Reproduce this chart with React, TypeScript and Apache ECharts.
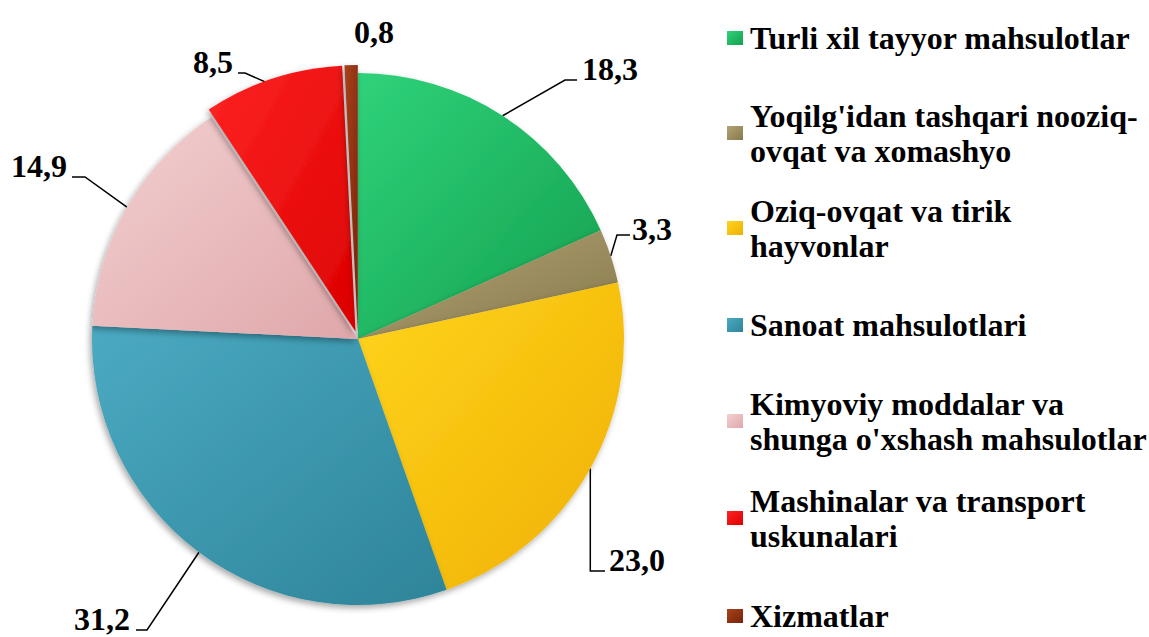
import React, { useEffect, useRef } from "react";
import * as echarts from "echarts";

const categories = [
  "Turli xil tayyor mahsulotlar",
  "Yoqilg'idan tashqari nooziq-ovqat va xomashyo",
  "Oziq-ovqat va tirik hayvonlar",
  "Sanoat mahsulotlari",
  "Kimyoviy moddalar va shunga o'xshash mahsulotlar",
  "Mashinalar va transport uskunalari",
  "Xizmatlar",
];
const legendLines = [
  ["Turli xil tayyor mahsulotlar"],
  ["Yoqilg'idan tashqari nooziq-", "ovqat va xomashyo"],
  ["Oziq-ovqat va tirik", "hayvonlar"],
  ["Sanoat mahsulotlari"],
  ["Kimyoviy moddalar va", "shunga o'xshash mahsulotlar"],
  ["Mashinalar va transport", "uskunalari"],
  ["Xizmatlar"],
];
const values = [18.3, 3.3, 23.0, 31.2, 14.9, 8.5, 0.8];
const exploded = [false, false, false, false, false, true, true];

const lightColors = ["#2fd27a", "#b3a476", "#ffd41e", "#4aaac2", "#f3d0d1", "#ff2424", "#a8421e"];
const darkColors = ["#15a04f", "#86794b", "#efb000", "#2e8499", "#dfa7aa", "#dc0000", "#762407"];

const FONT = "Liberation Serif";

// label placement (style): anchor x, baseline y, align, elbow & end offsets
const labelSpots = [
  { x: 582, y: 80, align: "left", elbow: [-17, 0], end: [-5, 0] },
  { x: 632, y: 240, align: "left", elbow: [-15, -5], end: [-2, -5] },
  { x: 609, y: 571, align: "left", elbow: null, end: [-4, 0] },
  { x: 130, y: 630, align: "right", elbow: [17, 0], end: [6, 0] },
  { x: 67, y: 177, align: "right", elbow: [18, 0], end: [5, 0] },
  { x: 233, y: 73, align: "right", elbow: [12, 0], end: [5, 0] },
  { x: 374, y: 43, align: "center", elbow: null, end: null },
];
const legendCenters = [38, 133, 228, 325, 421, 518, 616];

export default function App() {
  const ref = useRef<HTMLDivElement>(null);
  useEffect(() => {
    document.body.style.margin = "0";
    const chart = echarts.init(ref.current!, null, { renderer: "svg" });
    const pieData = categories.map((name, i) => ({
      name,
      value: values[i],
      selected: exploded[i],
      itemStyle: {
        color: {
          type: "linear",
          x: 0,
          y: 0,
          x2: 1,
          y2: 1,
          colorStops: [
            { offset: 0, color: lightColors[i] },
            { offset: 1, color: darkColors[i] },
          ],
        },
      },
    }));
    const labelData = categories.map((name, i) => ({
      name,
      value: values[i],
      labelLine: { show: labelSpots[i].end !== null },
    }));
    const legends = categories.map((name, i) => {
      const multi = legendLines[i].length > 1;
      return {
        data: [name],
        left: 727,
        top: legendCenters[i] - (multi ? 52.5 : 17.5),
        padding: 0,
        itemWidth: 16,
        itemHeight: 14,
        itemGap: 0,
        icon: "rect",
        selectedMode: false,
        formatter: () => legendLines[i].join("\n"),
        textStyle: {
          fontFamily: FONT,
          fontWeight: "bold",
          fontSize: 32,
          lineHeight: 35,
          color: "#000",
          padding: [multi ? 35 : 0, 0, 0, 2],
        },
      };
    });
    chart.setOption({
      animation: false,
      backgroundColor: "#fff",
      textStyle: { fontFamily: FONT },
      legend: legends,
      series: [
        {
          type: "pie",
          center: [358, 339],
          radius: 266,
          startAngle: 90,
          clockwise: true,
          selectedMode: "multiple",
          selectedOffset: 8,
          emphasis: { disabled: true },
          itemStyle: {
            shadowBlur: 6,
            shadowColor: "rgba(0,0,0,0.35)",
            shadowOffsetX: -2,
            shadowOffsetY: 3,
          },
          label: { show: false },
          labelLine: { show: false },
          data: pieData,
        },
        {
          type: "pie",
          center: [358, 339],
          radius: 266,
          startAngle: 90,
          clockwise: true,
          silent: true,
          selectedMode: false,
          avoidLabelOverlap: false,
          emphasis: { disabled: true },
          itemStyle: { color: "rgba(0,0,0,0)" },
          label: {
            show: true,
            position: "outside",
            formatter: (p: any) => p.value.toFixed(1).replace(".", ","),
            fontFamily: FONT,
            fontWeight: "bold",
            fontSize: 32,
            color: "#000",
          },
          labelLine: {
            show: true,
            length: 15,
            length2: 15,
            lineStyle: { color: "#000", width: 1.5 },
          },
          labelLayout: (params: any) => {
            const s = labelSpots[params.dataIndex];
            const out: any = {
              x: s.x,
              y: s.y - 10.8,
              align: s.align,
              verticalAlign: "middle",
            };
            const pts = params.labelLinePoints;
            if (pts && s.end) {
              const p0 = pts[0];
              const end = [s.x + s.end[0], s.y + s.end[1]];
              const elbow = s.elbow ? [s.x + s.elbow[0], s.y + s.elbow[1]] : [p0[0], end[1]];
              out.labelLinePoints = [p0, elbow, end];
            }
            return out;
          },
          data: labelData,
        },
      ],
    });
    return () => chart.dispose();
  }, []);
  return <div ref={ref} style={{ width: 1149, height: 637 }} />;
}
